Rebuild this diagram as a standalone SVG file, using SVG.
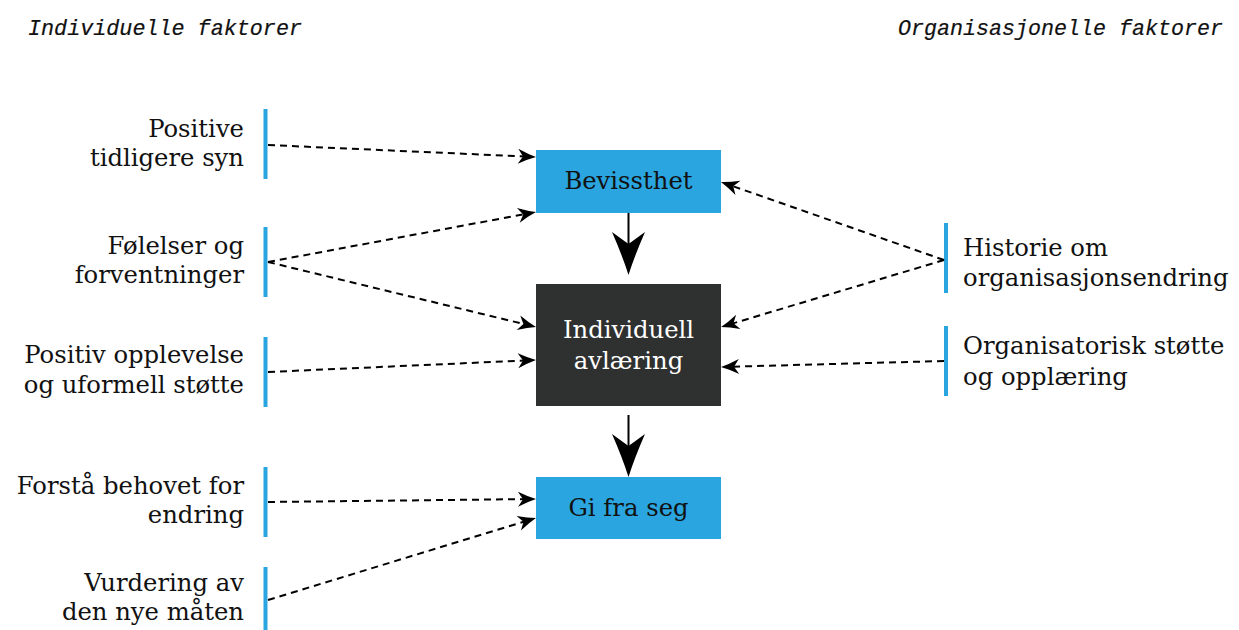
<svg xmlns="http://www.w3.org/2000/svg" width="1239" height="630" viewBox="0 0 1239 630">
  <style>
    text { font-family: "DejaVu Serif", "Liberation Serif", serif; font-size: 24.3px; fill: #111; }
    .title { font-family: "Liberation Mono", "DejaVu Sans Mono", monospace; font-style: italic; font-size: 22px; stroke: #111; stroke-width: 0.2; }
    .left { text-anchor: end; }
    .mid { text-anchor: middle; }
    .light { fill: #ffffff; }
    .bar { fill: #2aa5df; }
    .blue { fill: #2aa5df; }
    .dark { fill: #2f3030; }
    .dash { fill: none; stroke: #000; stroke-width: 2; stroke-dasharray: 7 5; marker-end: url(#small); }
    .solid { fill: none; stroke: #000; stroke-width: 2; marker-end: url(#big); }
  </style>
  <defs>
    <marker id="small" markerUnits="userSpaceOnUse" viewBox="-10 -9 22 18" markerWidth="22" markerHeight="18" refX="0" refY="0" orient="auto" overflow="visible">
      <path d="M10,0 Q2,-2.5 -8,-7.5 L-3,0 L-8,7.5 Q2,2.5 10,0 Z" fill="#000"/>
    </marker>
    <marker id="big" markerUnits="userSpaceOnUse" viewBox="-13 -17 45 34" markerWidth="45" markerHeight="34" refX="0" refY="0" orient="auto" overflow="visible">
      <path d="M31,0 Q12,-6 -12,-16.5 L0,0 L-12,16.5 Q12,6 31,0 Z" fill="#000"/>
    </marker>
  </defs>

  <!-- column headings -->
  <text class="title" x="28" y="35" textLength="274" lengthAdjust="spacingAndGlyphs">Individuelle faktorer</text>
  <text class="title" x="898" y="35" textLength="325" lengthAdjust="spacingAndGlyphs">Organisasjonelle faktorer</text>

  <!-- individual factors -->
  <g id="positive-syn">
    <rect class="bar" x="263.5" y="109" width="4" height="70"/>
    <text class="left" x="244" y="137">Positive</text>
    <text class="left" x="244" y="166">tidligere syn</text>
  </g>
  <g id="folelser">
    <rect class="bar" x="263.5" y="227" width="4" height="70"/>
    <text class="left" x="244" y="254">Følelser og</text>
    <text class="left" x="244" y="283">forventninger</text>
  </g>
  <g id="positiv-opplevelse">
    <rect class="bar" x="263.5" y="337" width="4" height="70"/>
    <text class="left" x="244" y="363">Positiv opplevelse</text>
    <text class="left" x="244" y="393">og uformell støtte</text>
  </g>
  <g id="forsta-behovet">
    <rect class="bar" x="263.5" y="467" width="4" height="70"/>
    <text class="left" x="244" y="494">Forstå behovet for</text>
    <text class="left" x="244" y="523">endring</text>
  </g>
  <g id="vurdering">
    <rect class="bar" x="263.5" y="567" width="4" height="70"/>
    <text class="left" x="244" y="591">Vurdering av</text>
    <text class="left" x="244" y="620">den nye måten</text>
  </g>

  <!-- central chain -->
  <g id="bevissthet">
    <rect class="blue" x="536" y="150" width="185" height="63"/>
    <text class="mid" x="628.5" y="189">Bevissthet</text>
  </g>
  <g id="individuell-avlaering">
    <rect class="dark" x="536" y="284" width="185" height="122"/>
    <text class="mid light" x="628.5" y="338">Individuell</text>
    <text class="mid light" x="628.5" y="369">avlæring</text>
  </g>
  <g id="gi-fra-seg">
    <rect class="blue" x="536" y="477" width="185" height="62"/>
    <text class="mid" x="628.5" y="516">Gi fra seg</text>
  </g>

  <!-- organisational factors -->
  <g id="historie">
    <rect class="bar" x="944" y="223" width="4" height="70"/>
    <text x="963" y="256">Historie om</text>
    <text x="963" y="286">organisasjonsendring</text>
  </g>
  <g id="organisatorisk-stotte">
    <rect class="bar" x="944" y="326" width="4" height="70"/>
    <text x="963" y="354">Organisatorisk støtte</text>
    <text x="963" y="385">og opplæring</text>
  </g>

  <!-- connectors -->
  <g id="connectors">
    <path class="solid" d="M628.5,213 L628.5,244"/>
    <path class="solid" d="M628.5,415 L628.5,446"/>
    <path class="dash" d="M268,145 L526,156.55"/>
    <path class="dash" d="M268,262 L526.2,213.85"/>
    <path class="dash" d="M268,262 L526.3,324.64"/>
    <path class="dash" d="M268,372 L526,360.45"/>
    <path class="dash" d="M268,502 L526,499.1"/>
    <path class="dash" d="M268,600 L526.4,520.93"/>
    <path class="dash" d="M944,260 L730.4,185.3"/>
    <path class="dash" d="M944,260 L730.6,324.12"/>
    <path class="dash" d="M944,361 L731,366.73"/>
  </g>
</svg>
